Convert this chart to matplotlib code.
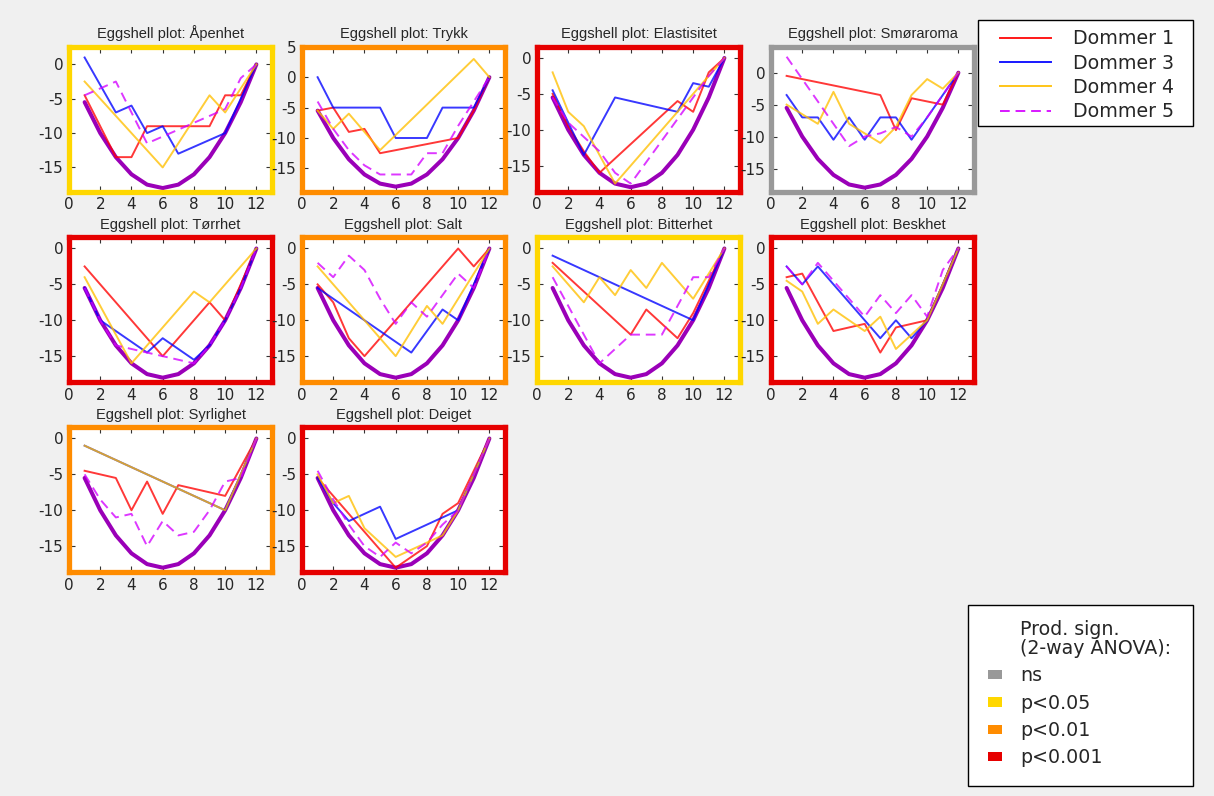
import matplotlib
matplotlib.use('Agg')
import matplotlib.pyplot as plt
from matplotlib.lines import Line2D
from matplotlib.patches import Patch, Rectangle
from matplotlib.ticker import MultipleLocator

plt.rcParams['axes.unicode_minus'] = False
plt.rcParams['font.family'] = ['DejaVu Sans']

# ---------------- data ----------------
ranks = [1, 2, 3, 4, 5, 6, 7, 8, 9, 10, 11, 12]
reference = [-5.5, -10, -13.5, -16, -17.5, -18, -17.5, -16, -13.5, -10, -5.5, 0]

judges = ['Dommer 1', 'Dommer 3', 'Dommer 4', 'Dommer 5']
attributes = ['Åpenhet', 'Trykk', 'Elastisitet', 'Smøraroma', 'Tørrhet',
              'Salt', 'Bitterhet', 'Beskhet', 'Syrlighet', 'Deiget']
significance = ['p<0.05', 'p<0.01', 'p<0.001', 'ns', 'p<0.001',
                'p<0.01', 'p<0.05', 'p<0.001', 'p<0.01', 'p<0.001']
sig_levels = ['ns', 'p<0.05', 'p<0.01', 'p<0.001']

# each: [Dommer 1, Dommer 3, Dommer 4, Dommer 5]
apenhet = [
    [-4.5, -9, -13.5, -13.5, -9, -9, -9, -9, -9, -4.5, -4.5, 0],
    [1, -3, -7, -6, -10, -9, -13, -12, -11, -10, -5, 0],
    [-2.5, -5, -7.5, -10, -12.5, -15, -11.5, -8, -4.5, -7, -3.5, 0],
    [-4.5, -3.5, -2.5, -7, -11.5, -10.5, -9.5, -8.5, -7.5, -6.5, -2, 0],
]
trykk = [
    [-5.5, -5, -9, -8.5, -12.5, -12, -11.5, -11, -10.5, -10, -5.5, 0],
    [0, -5, -5, -5, -5, -10, -10, -10, -5, -5, -5, 0],
    [-5.5, -8.5, -6, -9, -12, -9.5, -7, -4.5, -2, 0.5, 3, 0],
    [-4, -8.5, -12, -14.5, -16, -16, -16, -12.5, -12.5, -8, -4, 0],
]
elastisitet = [
    [-5, -9.5, -13, -16, -14, -12, -10, -8, -6, -7.5, -2, 0],
    [-4.5, -9, -13.5, -9.5, -5.5, -6, -6.5, -7, -7.5, -3.5, -4, 0],
    [-2, -7.5, -9.5, -13.5, -17.5, -15, -12.5, -10, -7.5, -5, -2.5, 0],
    [-5.5, -9, -11, -13, -16, -17.5, -14.5, -11.5, -8.5, -5.5, -2.5, 0],
]
smoraroma = [
    [-0.5, -1, -1.5, -2, -2.5, -3, -3.5, -9, -4, -4.5, -5, 0],
    [-3.5, -7, -7, -10.5, -7, -10.5, -7, -7, -10.5, -7, -3.5, 0],
    [-5, -6.5, -8, -3, -8, -9.5, -11, -8.5, -3.5, -1, -2.5, 0],
    [2.5, -1, -4.5, -8, -11.5, -10, -9.5, -8.5, -10, -7, -3.5, 0],
]
torrhet = [
    [-2.5, -5, -7.5, -10, -12.5, -15, -12.5, -10, -7.5, -10, -5, 0],
    [-5.5, -10, -11.5, -13, -14.5, -12.5, -14, -15.5, -13.5, -10, -5.5, 0],
    [-4, -8, -12, -16, -13.5, -11, -8.5, -6, -7.5, -5, -2.5, 0],
    [-5.5, -10, -13.5, -14, -14.5, -15, -15.5, -16, -13.5, -10, -5.5, 0],
]
salt = [
    [-5, -7.5, -12.5, -15, -12.5, -10, -7.5, -5, -2.5, 0, -2.5, 0],
    [-5.5, -7, -8.5, -10, -11.5, -13, -14.5, -11.5, -8.5, -10, -5, 0],
    [-2.5, -5, -7.5, -10, -12.5, -15, -11.5, -8, -10.5, -7, -3.5, 0],
    [-2, -4, -1, -3, -7, -10.5, -7.5, -9.5, -6.5, -3.5, -5.5, 0],
]
bitterhet = [
    [-2, -4, -6, -8, -10, -12, -8.5, -10.5, -12.5, -9, -4.5, 0],
    [-1, -2, -3, -4, -5, -6, -7, -8, -9, -10, -5, 0],
    [-2.5, -5, -7.5, -4, -6.5, -3, -5.5, -2, -4.5, -7, -3.5, 0],
    [-4, -8, -12, -16, -14, -12, -12, -12, -8, -4, -4, 0],
]
beskhet = [
    [-4, -3.5, -7.5, -11.5, -11, -10.5, -14.5, -11, -10.5, -10, -5, 0],
    [-2.5, -5, -2.5, -5, -7.5, -10, -12.5, -10, -12.5, -10, -5, 0],
    [-4.5, -6, -10.5, -8.5, -10, -11.5, -9.5, -14, -12, -10, -5, 0],
    [-2.5, -5, -2, -4.5, -7, -9.5, -6.5, -9, -6.5, -9.5, -3, 0],
]
syrlighet = [
    [-4.5, -5, -5.5, -10, -6, -10.5, -6.5, -7, -7.5, -8, -4, 0],
    [-1, -2, -3, -4, -5, -6, -7, -8, -9, -10, -5, 0],
    [-1, -2, -3, -4, -5, -6, -7, -8, -9, -10, -5, 0],
    [-5, -8.5, -11, -10.5, -15, -11.5, -13.5, -13, -10, -6, -5.5, 0],
]
deiget = [
    [-5.5, -8, -10.5, -13, -15.5, -18, -16.5, -15, -10.5, -9, -4.5, 0],
    [-5.5, -9, -11.5, -10.5, -9.5, -14, -13, -12, -11, -10, -5, 0],
    [-5, -9, -8, -12.5, -14.5, -16.5, -15.5, -14.5, -13.5, -10, -5, 0],
    [-4.5, -8.5, -12, -15, -16.5, -14.5, -16, -14.5, -12, -10, -5, 0],
]
curves = [apenhet, trykk, elastisitet, smoraroma, torrhet,
          salt, bitterhet, beskhet, syrlighet, deiget]

# ---------------- style ----------------
ylims = [(-18.5, 2.6), (-18.8, 5.05), (-18.6, 1.6), (-18.6, 4.1), (-18.6, 1.6),
         (-18.6, 1.6), (-18.6, 1.6), (-18.6, 1.6), (-18.6, 1.6), (-18.6, 1.6)]
judge_colors = ['#ff0000', '#0000ff', '#ffbf00', '#d400ff']
judge_styles = ['-', '-', '-', (0, (5, 3))]
sig_colors = {'ns': '#999999', 'p<0.05': '#ffd700',
              'p<0.01': '#ff8c00', 'p<0.001': '#e60000'}
ref_color = '#9a00b8'
text_color = '#262626'

W, H = 1214, 796
fig = plt.figure(figsize=(W / 100, H / 100), dpi=100)
fig.patch.set_facecolor('#f0f0f0')

col_left = [69, 302, 537, 771]
row_top = [46.5, 237, 427]
ax_w, ax_h = 203, 145

for i, (name, data) in enumerate(zip(attributes, curves)):
    r, c = divmod(i, 4)
    ax = fig.add_axes([col_left[c] / W, 1 - (row_top[r] + ax_h) / H, ax_w / W, ax_h / H])
    ax.set_facecolor('white')
    ax.plot(ranks, reference, color=ref_color, lw=2.9, solid_capstyle='round', zorder=2)
    for series, col, ls in zip(data, judge_colors, judge_styles):
        ax.plot(ranks, series, color=col, ls=ls, lw=1.4, alpha=0.78, zorder=3)
    ax.set_xlim(0, 13)
    ax.set_ylim(*ylims[i])
    ax.xaxis.set_major_locator(MultipleLocator(2))
    ax.yaxis.set_major_locator(MultipleLocator(5))
    ax.tick_params(direction='in', top=True, right=True, length=4, width=0.8,
                   labelsize=11, labelcolor=text_color, color='#333333', pad=4)
    for sp in ax.spines.values():
        sp.set_color(sig_colors[significance[i]])
        sp.set_linewidth(3.8)
    ax.set_title('Eggshell plot: ' + name, fontsize=10.5, color=text_color, pad=6,
                 family=['Liberation Sans Narrow', 'Liberation Sans', 'DejaVu Sans'])


def frame_box(x0, y0, x1, y1):
    rect = Rectangle((x0 / W, 1 - y1 / H), (x1 - x0) / W, (y1 - y0) / H,
                     transform=fig.transFigure, facecolor='white',
                     edgecolor='black', lw=1.0, zorder=4)
    fig.add_artist(rect)


# judge legend
frame_box(978, 20, 1193, 126)
judge_handles = [Line2D([0], [0], color=c, ls=ls, lw=1.4, alpha=0.9)
                 for c, ls in zip(judge_colors, judge_styles)]
leg1 = fig.legend(judge_handles, judges, loc='upper left',
                  bbox_to_anchor=(1000 / W, 1 - 29.5 / H), borderaxespad=0,
                  fontsize=13.7, handlelength=2.7, handletextpad=1.15,
                  labelspacing=0.28, borderpad=0, frameon=False)
leg1.set_zorder(5)
for t in leg1.get_texts():
    t.set_color(text_color)

# significance legend
frame_box(968, 605, 1193, 786)
sig_handles = [Patch(facecolor='none', edgecolor='none')]
sig_labels = ['Prod. sign.\n(2-way ANOVA):']
for lvl in sig_levels:
    sig_handles.append(Patch(facecolor=sig_colors[lvl], edgecolor='none'))
    sig_labels.append(lvl)
leg2 = fig.legend(sig_handles, sig_labels, loc='upper left',
                  bbox_to_anchor=(988 / W, 1 - 620 / H), borderaxespad=0,
                  fontsize=13.7, handlelength=0.74, handleheight=0.38,
                  handletextpad=0.95, labelspacing=0.44, borderpad=0,
                  frameon=False)
leg2.set_zorder(5)
texts = leg2.get_texts()
texts[0].set_linespacing(1.0)
for t in texts:
    t.set_color(text_color)

fig.savefig('out.png', dpi=100, facecolor=fig.get_facecolor())
